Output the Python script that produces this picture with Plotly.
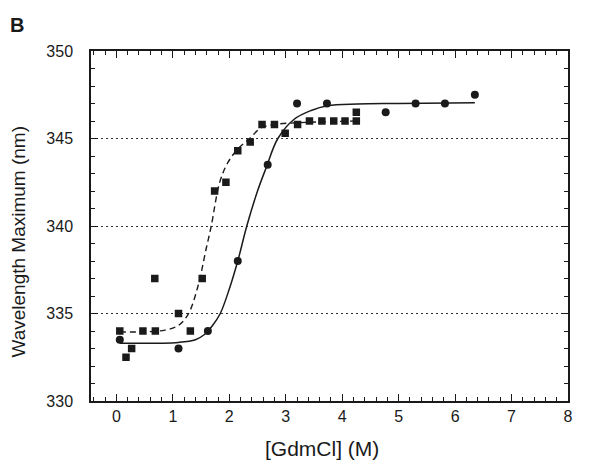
import plotly.graph_objects as go

# squares (dashed fit) - positions as read on the bottom axis
sq_x = [0.06, 0.17, 0.27, 0.47, 0.69, 0.68, 1.10, 1.31, 1.52, 1.74, 1.94, 2.15, 2.37,
        2.58, 2.80, 2.99, 3.21, 3.42, 3.64, 3.85, 4.05, 4.25, 4.25]
sq_y = [334.0, 332.5, 333.0, 334.0, 334.0, 337.0, 335.0, 334.0, 337.0, 342.0, 342.5, 344.3, 344.8,
        345.8, 345.8, 345.3, 345.8, 346.0, 346.0, 346.0, 346.0, 346.0, 346.5]

# circles (solid fit)
ci_x = [0.06, 1.10, 1.62, 2.15, 2.68, 3.20, 3.73, 4.77, 5.30, 5.82, 6.35]
ci_y = [333.5, 333.0, 334.0, 338.0, 343.5, 347.0, 347.0, 346.5, 347.0, 347.0, 347.5]

# fitted curves
dash_x = [0.06, 0.5, 0.86, 1.09, 1.27, 1.44, 1.59, 1.68, 1.83, 1.97, 2.15, 2.36, 2.56, 2.8, 3.2, 4.25]
dash_y = [333.95, 333.95, 334.05, 334.3, 334.95, 336.5, 338.7, 340.0, 342.5, 343.6, 344.4, 345.0,
          345.6, 345.8, 345.9, 346.0]
fit_x = [0.06, 1.1, 1.4, 1.56, 1.7, 1.84, 2.0, 2.15, 2.31, 2.5, 2.65, 2.86, 3.15, 3.45, 3.74,
         4.27, 5.0, 6.35]
fit_y = [333.3, 333.35, 333.5, 333.8, 334.3, 335.0, 336.4, 338.0, 340.0, 342.0, 343.3, 345.0,
         346.1, 346.6, 346.87, 346.97, 347.0, 347.05]

x_ticks = [0, 1, 2, 3, 4, 5, 6, 7, 8]
y_ticks = [330, 335, 340, 345, 350]

FONT = "Liberation Sans, Arial, sans-serif"
INK = "#1a1a1a"

fig = go.Figure()
fig.add_trace(go.Scatter(x=dash_x, y=dash_y, mode="lines", line_shape="spline",
                         line=dict(color=INK, width=1.4, dash="6px,4px"), showlegend=False))
fig.add_trace(go.Scatter(x=fit_x, y=fit_y, mode="lines", line_shape="spline",
                         line=dict(color=INK, width=1.5), showlegend=False))
fig.add_trace(go.Scatter(x=sq_x, y=sq_y, mode="markers",
                         marker=dict(symbol="square", size=7.5, color=INK), showlegend=False))
fig.add_trace(go.Scatter(x=ci_x, y=ci_y, mode="markers",
                         marker=dict(symbol="circle", size=8, color=INK), showlegend=False))

fig.update_xaxes(
    range=[-0.45, 8.0], tickvals=x_ticks, ticks="inside", ticklen=7, tickwidth=1,
    tickcolor=INK, showline=True, linecolor=INK, linewidth=1.5, mirror="ticks",
    showgrid=False, zeroline=False, ticklabelstandoff=0,
    tickfont=dict(family=FONT, size=16, color=INK),
    minor=dict(dtick=0.2, ticks="inside", ticklen=4, tickcolor=INK, showgrid=False),
)
fig.update_yaxes(
    range=[330, 350], tickvals=y_ticks, ticks="inside", ticklen=7, tickwidth=1,
    tickcolor=INK, showline=True, linecolor=INK, linewidth=1.5, mirror="ticks",
    showgrid=True, gridcolor="#333333", gridwidth=1, griddash="2px,3px", zeroline=False,
    ticklabelstandoff=13,
    tickfont=dict(family=FONT, size=16, color=INK),
    minor=dict(dtick=1, ticks="inside", ticklen=4, tickcolor=INK, showgrid=False),
)

fig.update_layout(
    width=600, height=467,
    margin=dict(l=83, r=40, t=43, b=74),
    plot_bgcolor="white", paper_bgcolor="white",
    font=dict(family=FONT, color=INK),
    annotations=[
        dict(text="[GdmCl] (M)", x=0.485, y=-0.137, xref="paper", yref="paper",
             showarrow=False, font=dict(size=21), xanchor="center", yanchor="middle"),
        dict(text="Wavelength Maximum (nm)", x=-0.152, y=0.457, xref="paper", yref="paper",
             showarrow=False, textangle=-90, font=dict(size=19), xanchor="center", yanchor="middle"),
        dict(text="<b>B</b>", x=-0.155, y=1.073, xref="paper", yref="paper",
             showarrow=False, font=dict(size=20), xanchor="center", yanchor="middle"),
    ],
)

fig.write_html("out.html")
